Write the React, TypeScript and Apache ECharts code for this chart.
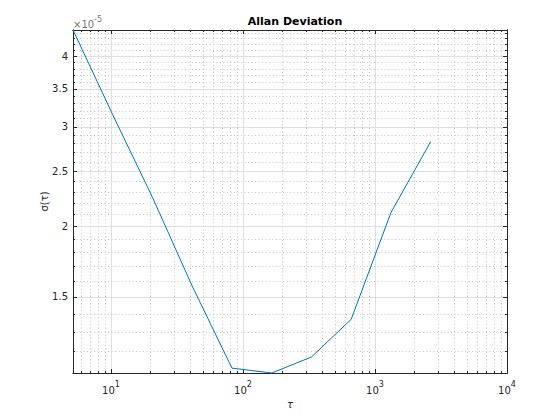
import React, { useEffect, useRef } from "react";
import * as echarts from "echarts";

// Averaging times (s) and Allan deviation values
const tau = [5.16, 10.32, 20.64, 41.28, 82.56, 165.1, 330.2, 660.5, 1321, 2642];
const adev = [4.45e-5, 3.15e-5, 2.25e-5, 1.567e-5, 1.122e-5, 1.1e-5, 1.174e-5, 1.369e-5, 2.115e-5, 2.823e-5];

// Axis ranges and tick values
const xRange = [5.16, 10000];
const yRange = [1.1e-5, 4.45e-5];
const xMajorTicks = [10, 100, 1000, 10000];
const xMinorTicks = [6, 7, 8, 9, 20, 30, 40, 50, 60, 70, 80, 90, 200, 300, 400, 500, 600, 700, 800, 900, 2000, 3000, 4000, 5000, 6000, 7000, 8000, 9000];
const yMajorTicks = [1.5e-5, 2e-5, 2.5e-5, 3e-5, 3.5e-5, 4e-5];
const yMinorTicks = [1.1e-5, 1.2e-5, 1.3e-5, 1.4e-5, 1.6e-5, 1.7e-5, 1.8e-5, 1.9e-5, 2.1e-5, 2.2e-5, 2.3e-5, 2.4e-5, 2.6e-5, 2.7e-5, 2.8e-5, 2.9e-5, 3.1e-5, 3.2e-5, 3.3e-5, 3.4e-5, 3.6e-5, 3.7e-5, 3.8e-5, 3.9e-5, 4.1e-5, 4.2e-5, 4.3e-5, 4.4e-5];
const yExponent = -5;

const FONT = "DejaVu Sans";
const AX = "#262626";
const MAJOR_GRID = "#dfdfdf";
const MINOR_GRID = "#c4c4c4";

function xAxisDef(position: string, ticks: number[], len: number, extra: any = {}) {
  return {
    type: "log",
    logBase: 10,
    min: xRange[0],
    max: xRange[1],
    position,
    axisLine: { show: true, onZero: false, lineStyle: { color: AX, width: 1 } },
    axisTick: { show: true, inside: true, length: len, customValues: ticks, lineStyle: { color: AX, width: 1 } },
    axisLabel: { show: false },
    splitLine: { show: false },
    minorTick: { show: false },
    minorSplitLine: { show: false },
    ...extra,
  };
}

function yAxisDef(position: string, ticks: number[], len: number, extra: any = {}) {
  return {
    type: "log",
    logBase: 10,
    min: yRange[0],
    max: yRange[1],
    position,
    axisLine: { show: true, onZero: false, lineStyle: { color: AX, width: 1 } },
    axisTick: { show: true, inside: true, length: len, customValues: ticks, lineStyle: { color: AX, width: 1 } },
    axisLabel: { show: false },
    splitLine: { show: false },
    minorTick: { show: false },
    minorSplitLine: { show: false },
    ...extra,
  };
}

export default function App() {
  const ref = useRef<HTMLDivElement>(null);
  useEffect(() => {
    if (!ref.current) return;
    const chart = echarts.init(ref.current, undefined, { renderer: "svg" });
    const scale = Math.pow(10, -yExponent);
    chart.setOption({
      animation: false,
      backgroundColor: "#ffffff",
      textStyle: { fontFamily: FONT },
      title: {
        text: "Allan Deviation",
        left: 290,
        textAlign: "center",
        top: 11,
        textStyle: { fontFamily: FONT, fontSize: 11, fontWeight: "bold", color: "#000000" },
      },
      grid: { left: 73, right: 53, top: 30, bottom: 47, containLabel: false },
      xAxis: [
        xAxisDef("bottom", xMajorTicks, 4, {
          axisLabel: {
            show: true,
            customValues: xMajorTicks,
            margin: 7,
            formatter: (v: number) => `{b|10}{s|${Math.round(Math.log10(v))}}`,
            rich: {
              b: { fontFamily: FONT, fontSize: 10, color: AX, lineHeight: 15, verticalAlign: "bottom" },
              s: { fontFamily: FONT, fontSize: 8, color: AX, lineHeight: 9, verticalAlign: "top" },
            },
          },
          splitLine: { show: true, lineStyle: { color: MAJOR_GRID, width: 1 } },
          name: "τ",
          nameLocation: "middle",
          nameGap: 26,
          nameMoveOverlap: false,
          nameTextStyle: { fontFamily: FONT, fontSize: 10, color: AX, fontStyle: "italic" },
        }),
        xAxisDef("bottom", xMinorTicks, 2, {
          splitLine: { show: true, lineStyle: { color: MINOR_GRID, width: 1, type: [1, 2.5] } },
        }),
        xAxisDef("top", xMajorTicks, 4),
        xAxisDef("top", xMinorTicks, 2),
      ],
      yAxis: [
        yAxisDef("left", yMajorTicks, 4, {
          axisLabel: {
            show: true,
            customValues: yMajorTicks,
            margin: 5,
            color: AX,
            fontFamily: FONT,
            fontSize: 10,
            formatter: (v: number) => String(Math.round(v * scale * 10) / 10),
          },
          splitLine: { show: true, lineStyle: { color: MAJOR_GRID, width: 1 } },
          name: "σ(τ)",
          nameLocation: "middle",
          nameGap: 24,
          nameMoveOverlap: false,
          nameTextStyle: { fontFamily: FONT, fontSize: 10, color: AX },
        }),
        yAxisDef("left", yMinorTicks, 2, {
          splitLine: { show: true, lineStyle: { color: MINOR_GRID, width: 1, type: [1, 2.5] } },
          name: `{b|×10}{s|${yExponent}}`,
          nameLocation: "end",
          nameGap: 1,
          nameMoveOverlap: false,
          nameTextStyle: {
            align: "left",
            verticalAlign: "bottom",
            rich: {
              b: { fontFamily: FONT, fontSize: 10, color: "#777777", lineHeight: 14, verticalAlign: "bottom" },
              s: { fontFamily: FONT, fontSize: 8, color: "#777777", lineHeight: 9, verticalAlign: "top" },
            },
          },
        }),
        yAxisDef("right", yMajorTicks, 4),
        yAxisDef("right", yMinorTicks, 2),
      ],
      series: [
        {
          type: "line",
          xAxisIndex: 0,
          yAxisIndex: 0,
          data: tau.map((t, i) => [t, adev[i]]),
          symbol: "none",
          showSymbol: false,
          lineStyle: { color: "#0072BD", width: 1 },
          itemStyle: { color: "#0072BD" },
          clip: true,
        },
      ],
    });
    return () => chart.dispose();
  }, []);
  return (
    <div
      ref={ref}
      style={{ position: "fixed", left: 0, top: 0, width: 560, height: 420, background: "#fff" }}
    />
  );
}
